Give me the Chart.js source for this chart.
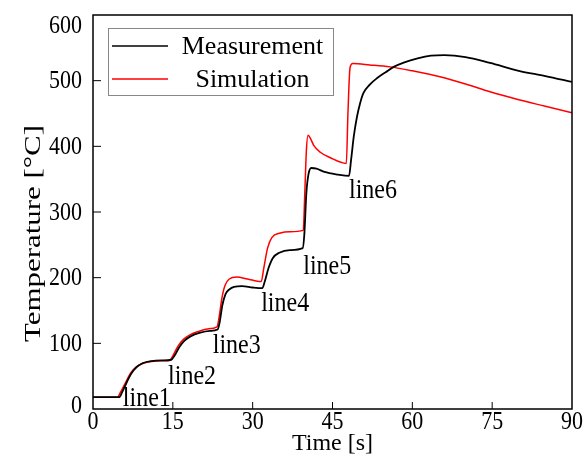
<!DOCTYPE html>
<html>
<head>
<meta charset="utf-8">
<script src="https://cdn.jsdelivr.net/npm/chart.js@4"></script>
<style>
  body { margin: 0; background: #fff; }
  canvas { display: block; }
</style>
</head>
<body>
<canvas id="chart" width="587" height="458"></canvas>
<script>
const measTime = [0, 4.9, 5.5, 6.3, 7.2, 8.2, 9.4, 11, 13, 14.7, 15.3, 16.2, 17.2, 18.4, 20, 22, 23.4, 23.8, 24.3, 24.9, 25.6, 26.5, 28, 30, 31.8, 32.3, 33, 33.8, 35, 37, 39.4, 39.7, 40.1, 40.5, 41, 42, 43.5, 46, 48.1, 48.5, 49, 49.6, 50.2, 50.8, 52, 53.4, 55, 56.5, 58.5, 61, 63.5, 66, 70, 74.6, 80, 85, 90];
const measTemp = [18, 18, 26, 40, 54, 64, 70, 73, 74, 75, 81, 94, 104, 111, 116, 119, 121, 132, 158, 175, 182, 186, 187, 185, 184, 195, 215, 230, 238, 242, 245, 265, 330, 358, 367, 366, 361, 357, 355, 380, 415, 445, 466, 481, 494, 504, 513, 521, 528, 534, 538, 539, 536, 527, 515, 507, 498];

const simTime = [0, 4.6, 5.2, 6.1, 7.0, 8.0, 9.2, 11, 13, 14.4, 15.0, 16.0, 17.0, 18.2, 19.8, 21.5, 23.3, 23.7, 24.2, 24.8, 25.6, 27, 29, 31.6, 32.1, 32.8, 33.6, 35.2, 37, 39.5, 39.8, 40.1, 40.4, 40.8, 41.5, 42.7, 44.5, 47.6, 47.9, 48.3, 48.8, 52, 55.8, 60, 65.2, 70, 74.6, 80, 85, 90];
const simTemp = [18, 18, 26, 40, 54, 63, 69, 72.5, 73.5, 74, 81, 96, 106, 113, 118, 122, 125, 140, 168, 188, 198, 201, 198, 194, 215, 245, 261, 268, 270, 272, 330, 395, 417, 413, 401, 391, 383, 374, 450, 520, 526, 524, 521, 515, 506, 495, 483, 471, 461, 451];

const stepNames = ['line1', 'line2', 'line3', 'line4', 'line5', 'line6'];
const stepX = [5.6, 14.1, 22.5, 31.6, 39.5, 48.1];
const stepY = [4.6, 38, 85, 149, 206, 321];

const seriesNames = ['Measurement', 'Simulation'];
const seriesColors = ['#000000', '#ff0000'];

const serif = '"Liberation Serif", "Times New Roman", serif';

function toPoints(xs, ys) {
    return xs.map((x, i) => ({ x: x, y: ys[i] }));
}

// text slightly stretched vertically, like the original figure
function tallText(ctx, text, x, y, sy) {
    ctx.save();
    ctx.translate(x, y);
    ctx.scale(1, sy);
    ctx.fillText(text, 0, 0);
    ctx.restore();
}

const decorPlugin = {
    id: 'decor',
    afterDraw(chart) {
        const ctx = chart.ctx;
        const area = chart.chartArea;
        const xScale = chart.scales.x;
        const yScale = chart.scales.y;

        ctx.save();
        ctx.strokeStyle = '#000';
        ctx.lineWidth = 1.5;
        ctx.strokeRect(area.left, area.top, area.right - area.left, area.bottom - area.top);

        // inward tick marks
        ctx.lineWidth = 1;
        ctx.beginPath();
        xScale.ticks.forEach(t => {
            const px = xScale.getPixelForValue(t.value);
            if (t.value <= xScale.min || t.value >= xScale.max) return;
            ctx.moveTo(px, area.bottom);
            ctx.lineTo(px, area.bottom - 7);
        });
        yScale.ticks.forEach(t => {
            const py = yScale.getPixelForValue(t.value);
            if (t.value <= yScale.min || t.value >= yScale.max) return;
            ctx.moveTo(area.left, py);
            ctx.lineTo(area.left + 8, py);
        });
        ctx.stroke();

        // tick labels
        ctx.fillStyle = '#000';
        ctx.font = '22px ' + serif;
        ctx.textBaseline = 'middle';
        ctx.textAlign = 'center';
        xScale.ticks.forEach(t => {
            tallText(ctx, String(t.value), xScale.getPixelForValue(t.value), area.bottom + 13, 1.15);
        });
        ctx.textAlign = 'right';
        yScale.ticks.forEach(t => {
            let py = yScale.getPixelForValue(t.value);
            py = Math.min(Math.max(py, area.top + 10), area.bottom - 4);
            tallText(ctx, String(t.value), area.left - 11, py + 1, 1.15);
        });

        // step labels
        ctx.font = '24px ' + serif;
        ctx.textAlign = 'left';
        ctx.textBaseline = 'alphabetic';
        stepNames.forEach((name, i) => {
            tallText(ctx, name, xScale.getPixelForValue(stepX[i]), yScale.getPixelForValue(stepY[i]), 1.15);
        });

        // legend
        ctx.strokeStyle = '#888';
        ctx.lineWidth = 1;
        ctx.strokeRect(108.5, 28.5, 225, 67);
        ctx.font = '26px ' + serif;
        ctx.textAlign = 'center';
        ctx.textBaseline = 'middle';
        [46, 79].forEach((ly, i) => {
            ctx.strokeStyle = seriesColors[i];
            ctx.lineWidth = 1.5;
            ctx.beginPath();
            ctx.moveTo(112, ly);
            ctx.lineTo(168, ly);
            ctx.stroke();
            ctx.fillStyle = '#000';
            ctx.fillText(seriesNames[i], 252.5, ly + 1);
        });

        // y axis title
        ctx.save();
        ctx.translate(34, 233.5);
        ctx.rotate(-Math.PI / 2);
        ctx.font = '23px ' + serif;
        const title = 'Temperature [°C]';
        const w = ctx.measureText(title).width;
        ctx.scale(217 / w, 1);
        ctx.textAlign = 'center';
        ctx.textBaseline = 'middle';
        ctx.fillText(title, 0, 0);
        ctx.restore();

        ctx.restore();
    }
};

new Chart(document.getElementById('chart'), {
    type: 'line',
    data: {
        datasets: [
            {
                label: seriesNames[0],
                data: toPoints(measTime, measTemp),
                borderColor: seriesColors[0],
                borderWidth: 1.8,
                pointRadius: 0,
                cubicInterpolationMode: 'monotone',
                fill: false
            },
            {
                label: seriesNames[1],
                data: toPoints(simTime, simTemp),
                borderColor: seriesColors[1],
                borderWidth: 1.5,
                pointRadius: 0,
                cubicInterpolationMode: 'monotone',
                fill: false
            }
        ]
    },
    options: {
        responsive: false,
        animation: false,
        devicePixelRatio: 1,
        layout: { padding: { top: 15, right: 15, left: 0, bottom: 0 } },
        plugins: {
            legend: { display: false },
            tooltip: { enabled: false }
        },
        scales: {
            x: {
                type: 'linear',
                min: 0,
                max: 90,
                grid: { display: false, drawTicks: false },
                border: { display: false },
                ticks: { display: false, stepSize: 15 },
                title: {
                    display: true,
                    text: 'Time [s]',
                    color: '#000',
                    padding: { top: 0, bottom: 0 },
                    font: { family: serif, size: 24 }
                },
                afterFit(scale) { scale.height = 49; }
            },
            y: {
                min: 0,
                max: 600,
                grid: { display: false, drawTicks: false },
                border: { display: false },
                ticks: { display: false, stepSize: 100 },
                afterFit(scale) { scale.width = 93; }
            }
        }
    },
    plugins: [decorPlugin]
});
</script>
</body>
</html>
